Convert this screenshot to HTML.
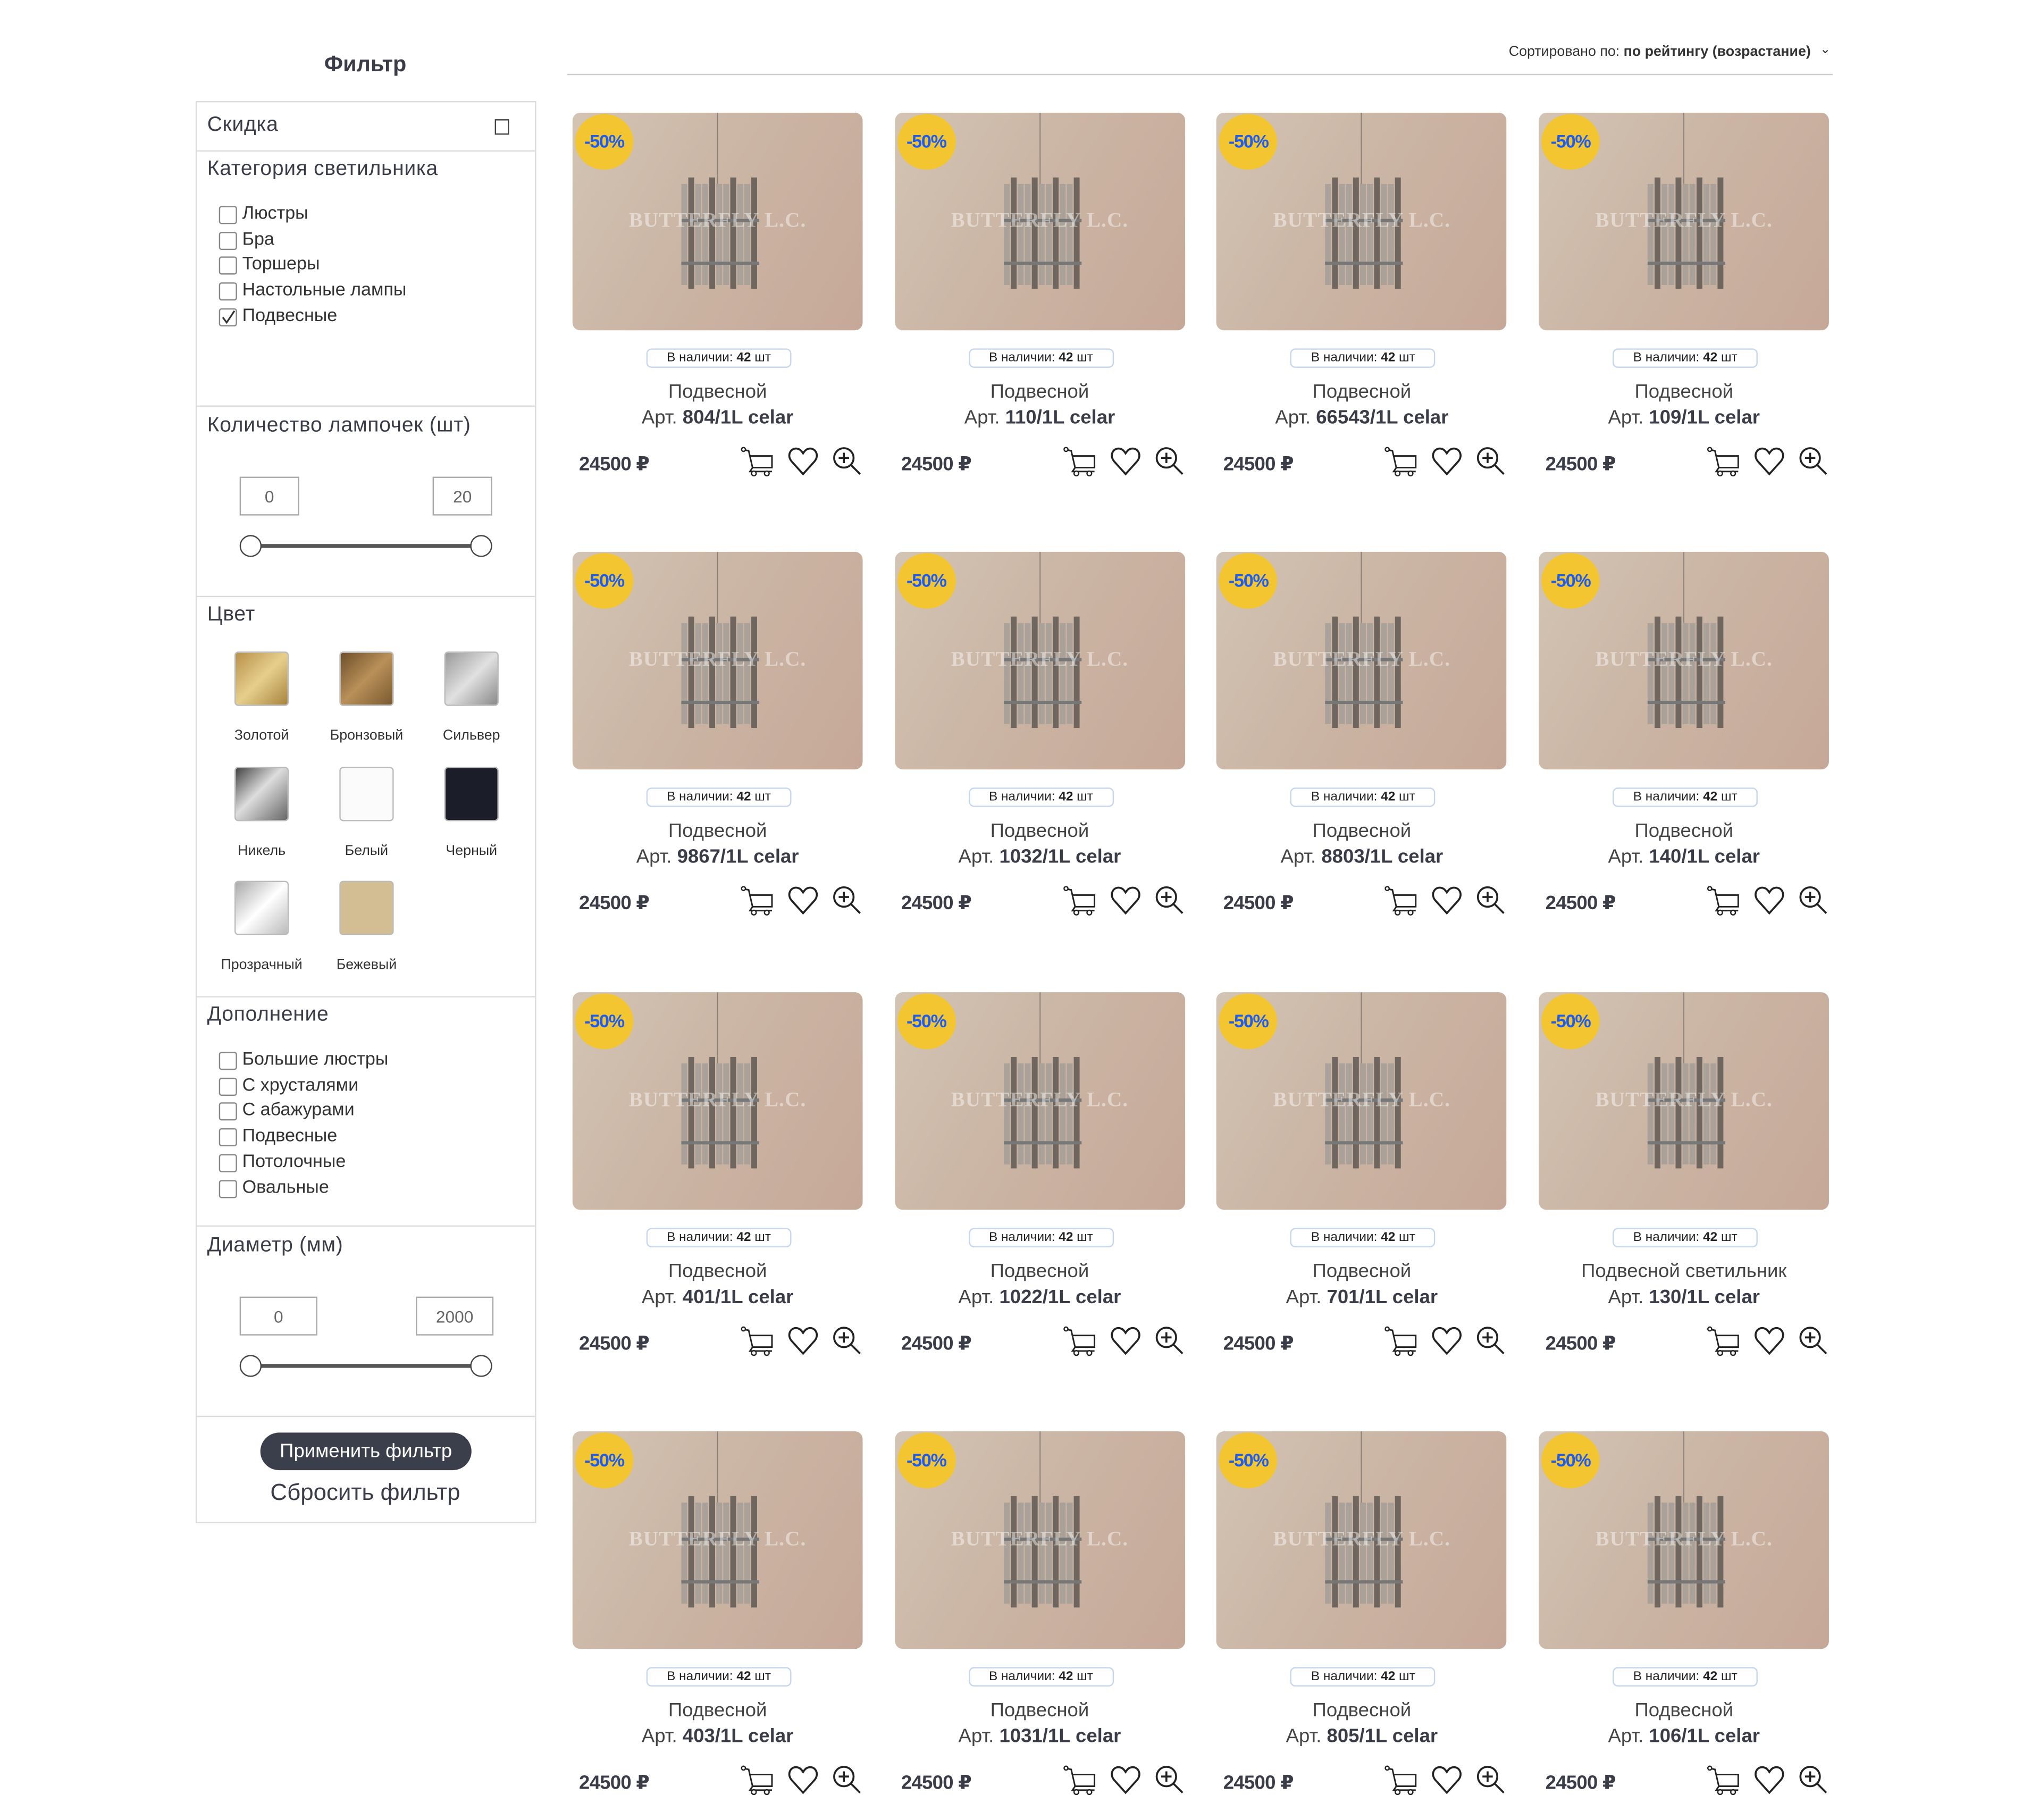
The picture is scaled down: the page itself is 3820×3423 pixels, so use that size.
<!DOCTYPE html>
<html><head><meta charset="utf-8">
<style>
html,body{margin:0;padding:0;background:#fff;}
body{width:3820px;height:3423px;overflow:hidden;font-family:"Liberation Sans","DejaVu Sans",sans-serif;color:#3a3d48;}
#page{position:absolute;left:0;top:0;width:1568px;height:1405px;transform:scale(2.4362);transform-origin:0 0;}
.abs{position:absolute;}
.h{font-size:16px;color:#3a3d48;font-weight:500;letter-spacing:0.3px;}
.div{position:absolute;left:0;width:262px;height:1px;background:#dcdcdc;}
.cb{position:absolute;width:12px;height:12px;border:1px solid #888;border-radius:2px;background:#fff;}
.cbl{position:absolute;font-size:14px;color:#333;}
.inp{position:absolute;height:30px;border:1px solid #aaa;font-size:13px;color:#666;text-align:center;line-height:30px;box-sizing:border-box;}
.track{position:absolute;height:3px;background:#555;}
.knob{position:absolute;width:15px;height:15px;border:1.5px solid #444;border-radius:50%;background:#fff;}
.sw{position:absolute;width:40px;height:40px;border:1px solid #bbb;border-radius:3px;}
.swl{position:absolute;font-size:11px;color:#333;width:80px;text-align:center;}
.card{position:absolute;width:224px;height:300px;}
.img{position:absolute;left:0;top:0;width:224px;height:168px;border-radius:6px;overflow:hidden;background:linear-gradient(120deg,#d2c4b4 0%,#cbb5a4 45%,#c6a898 100%);}
.badge{position:absolute;left:2px;top:1px;width:45px;height:43px;border-radius:50%;background:#f2c531;color:#1e5cf0;font-weight:bold;font-size:14px;line-height:43px;text-align:center;letter-spacing:-0.5px;}
.wm{position:absolute;left:0;width:224px;top:75px;text-align:center;font-family:"Liberation Serif",serif;font-weight:bold;font-size:16px;color:rgba(255,255,255,0.45);letter-spacing:0.5px;}
.stock{position:absolute;top:182px;left:57px;width:110px;height:13px;border:1px solid #c5d6ee;border-radius:4px;font-size:10px;line-height:13px;text-align:center;color:#222;}
.ttl{position:absolute;top:207px;left:-20px;width:264px;text-align:center;font-size:15px;color:#444;}
.art{position:absolute;top:227px;left:-20px;width:264px;text-align:center;font-size:15px;color:#444;}
.art b{color:#3a3d48;}
.price{position:absolute;top:262px;left:5px;font-size:15px;font-weight:bold;color:#3a3d48;letter-spacing:-0.3px;}
.ic{position:absolute;top:257px;}
</style></head><body>
<div id="page">
  <div class="abs" style="left:232px;top:40px;width:100px;text-align:center;font-size:17px;font-weight:bold;color:#3a3d48;">Фильтр</div>
  <div class="abs" style="left:1000px;top:34px;width:398px;text-align:right;font-size:11px;color:#333;">Сортировано по: <b>по рейтингу (возрастание)</b></div>
  <div class="abs" style="left:1405px;top:33px;font-size:10px;color:#333;">⌄</div>
  <div class="abs" style="left:438px;top:57px;width:977px;height:1px;background:#ccc;"></div>

  <div class="abs" id="sidebar" style="left:151px;top:78px;width:263px;height:1098px;border:1px solid #dcdcdc;box-sizing:border-box;">
    <div class="abs h" style="left:8px;top:9px;">Скидка</div>
    <div class="abs" style="left:230px;top:13px;width:9px;height:10px;border:1.3px solid #444;"></div>
    <div class="div" style="top:37px;"></div>
    <div class="abs h" style="left:8px;top:43px;">Категория светильника</div>
    <div id="catlist"></div>
    <div class="div" style="top:234px;"></div>
    <div class="abs h" style="left:8px;top:241px;">Количество лампочек (шт)</div>
    <div class="inp" style="left:33px;top:289px;width:46px;">0</div>
    <div class="inp" style="left:182px;top:289px;width:46px;">20</div>
    <div class="track" style="left:42px;top:341px;width:178px;"></div>
    <div class="knob" style="left:33px;top:334px;"></div>
    <div class="knob" style="left:211px;top:334px;"></div>
    <div class="div" style="top:381px;"></div>
    <div class="abs h" style="left:8px;top:387px;">Цвет</div>
    <div id="swatches"></div>
    <div class="div" style="top:690px;"></div>
    <div class="abs h" style="left:8px;top:696px;">Дополнение</div>
    <div id="extlist"></div>
    <div class="div" style="top:867px;"></div>
    <div class="abs h" style="left:8px;top:874px;">Диаметр (мм)</div>
    <div class="inp" style="left:33px;top:922px;width:60px;">0</div>
    <div class="inp" style="left:169px;top:922px;width:60px;">2000</div>
    <div class="track" style="left:42px;top:974px;width:178px;"></div>
    <div class="knob" style="left:33px;top:967px;"></div>
    <div class="knob" style="left:211px;top:967px;"></div>
    <div class="div" style="top:1014px;"></div>
    <div class="abs" style="left:49px;top:1027px;width:163px;height:29px;border-radius:15px;background:#3a3f4b;color:#fff;font-size:15px;line-height:29px;text-align:center;">Применить фильтр</div>
    <div class="abs" style="left:30px;top:1063px;width:200px;text-align:center;font-size:18px;color:#3a3d48;">Сбросить фильтр</div>
  </div>
  <div id="grid"></div>
</div>
<script>
const categories = ["Люстры","Бра","Торшеры","Настольные лампы","Подвесные"];
const categoryChecked = [false,false,false,false,true];
const extras = ["Большие люстры","С хрусталями","С абажурами","Подвесные","Потолочные","Овальные"];
const colorNames = ["Золотой","Бронзовый","Сильвер","Никель","Белый","Черный","Прозрачный","Бежевый"];
const colorFills = ["linear-gradient(135deg,#b8914a,#e6cf8c 50%,#a8843e)","linear-gradient(135deg,#6e4f2a,#b89058 50%,#7a5a30)","linear-gradient(135deg,#9a9a9a,#e0e0e0 50%,#8a8a8a)","linear-gradient(135deg,#444,#ddd 45%,#666)","#fbfbfb","#1b1d29","linear-gradient(135deg,#aaa,#fff 50%,#bbb)","#d3bd93"];
const titles = ["Подвесной","Подвесной","Подвесной","Подвесной","Подвесной","Подвесной","Подвесной","Подвесной","Подвесной","Подвесной","Подвесной","Подвесной светильник","Подвесной","Подвесной","Подвесной","Подвесной"];
const articles = ["804/1L celar","110/1L celar","66543/1L celar","109/1L celar","9867/1L celar","1032/1L celar","8803/1L celar","140/1L celar","401/1L celar","1022/1L celar","701/1L celar","130/1L celar","403/1L celar","1031/1L celar","805/1L celar","106/1L celar"];
const prices = [24500,24500,24500,24500,24500,24500,24500,24500,24500,24500,24500,24500,24500,24500,24500,24500];
const stock = [42,42,42,42,42,42,42,42,42,42,42,42,42,42,42,42];

function mkList(host, items, checked, top){
  items.forEach((t,i)=>{
    const c=document.createElement('div');c.className='cb';
    c.style.left='17px';c.style.top=(top+i*19.7)+'px';
    
    
    if(checked&&checked[i]) c.innerHTML='<svg width="12" height="12" style="position:absolute;left:0;top:0"><path d="M2 6 L5 10 L11 1" stroke="#333" stroke-width="1.3" fill="none"/></svg>';
    host.appendChild(c);
    const l=document.createElement('div');l.className='cbl';
    l.style.left='35px';l.style.top=(top-3+i*19.7)+'px';l.textContent=t;
    
    
    host.appendChild(l);
  });
}
const sb=document.getElementById('sidebar');
mkList(sb,categories,categoryChecked,80);
mkList(sb,extras,null,733);
colorNames.forEach((n,i)=>{
  const col=i%3,row=Math.floor(i/3);
  const cx=50+col*81, cy=445+row*88.5;
  const s=document.createElement('div');s.className='sw';
  s.style.left=(cx-21)+'px';s.style.top=(cy-21)+'px';s.style.background=colorFills[i];
  
  
  sb.appendChild(s);
  const l=document.createElement('div');l.className='swl';
  l.style.left=(cx-40)+'px';l.style.top=(cy+38)+'px';l.textContent=n;
  
  
  sb.appendChild(l);
});
function lamp(){
  let s='<svg width="224" height="168" style="position:absolute;left:0;top:0"><line x1="112" y1="0" x2="112" y2="55" stroke="#8a8078" stroke-width="0.8"/>';
  for(let k=0;k<11;k++){const x=86+k*5.4;const tall=(k%3===1);s+='<rect x="'+(x-2)+'" y="'+(tall?50:55)+'" width="4.5" height="'+(tall?86:78)+'" fill="'+(tall?'#5f5954':'#a59f98')+'" opacity="0.85"/>';}
  s+='<rect x="84" y="82" width="60" height="2.5" fill="#777"/><rect x="84" y="115" width="60" height="2.5" fill="#777"/></svg>';
  return s;
}
const grid=document.getElementById('grid');
const cart='<svg width="26" height="24" viewBox="0 0 26 24"><circle cx="2" cy="3" r="1.5" fill="none" stroke="#222"/><path d="M3.5 3.5 L6 4 L9 17 L24 17 L24 8 L7 8" fill="none" stroke="#222" stroke-width="1.2"/><path d="M9 17 L7 20 L24 20" fill="none" stroke="#222" stroke-width="1.2"/><circle cx="10" cy="21.5" r="1.8" fill="#fff" stroke="#222"/><circle cx="20" cy="21.5" r="1.8" fill="#fff" stroke="#222"/></svg>';
const heart='<svg width="24" height="24" viewBox="0 0 24 24"><path d="M12 22 L3 12 C-1 7 3 1 8 2.5 C10 3 11 4.5 12 6 C13 4.5 14 3 16 2.5 C21 1 25 7 21 12 Z" fill="none" stroke="#222" stroke-width="1.5"/></svg>';
const zoomI='<svg width="24" height="24" viewBox="0 0 24 24"><circle cx="9.5" cy="9.5" r="7.5" fill="none" stroke="#222" stroke-width="1.5"/><path d="M9.5 5.5 V13.5 M5.5 9.5 H13.5 M15 15 L22 22" stroke="#222" stroke-width="1.5"/></svg>';
articles.forEach((a,i)=>{
  const col=i%4,row=Math.floor(i/4);
  const c=document.createElement('div');c.className='card';
  c.style.left=(442+col*248.7)+'px';c.style.top=(87+row*339.3)+'px';
  
  
  c.innerHTML='<div class="img">'+lamp()+'<div class="wm">BUTTERFLY L.C.</div><div class="badge">-50%</div></div>'+
   '<div class="stock">В наличии: <b>'+stock[i]+'</b> шт</div>'+
   '<div class="ttl">'+titles[i]+'</div>'+
   '<div class="art">Арт. <b>'+a+'</b></div>'+
   '<div class="price">'+prices[i]+' ₽</div>'+
   '<div class="ic" style="left:130px">'+cart+'</div>'+
   '<div class="ic" style="left:166px">'+heart+'</div>'+
   '<div class="ic" style="left:200px">'+zoomI+'</div>';
  grid.appendChild(c);
});
</script>
</body></html>
